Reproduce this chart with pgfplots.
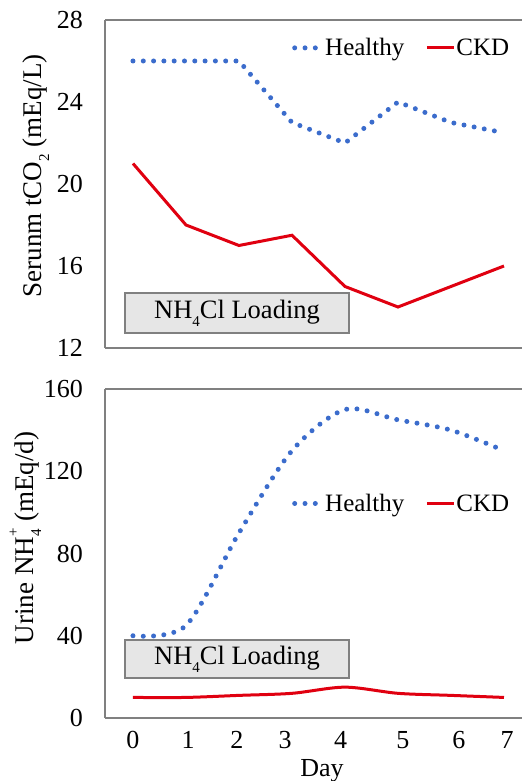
\documentclass[border=0pt]{standalone}
\usepackage{pgfplots}
\pgfplotsset{compat=1.18}
\usepackage{fontspec}
\setmainfont{Liberation Serif}
\definecolor{hblue}{RGB}{59,108,204}
\definecolor{ckdred}{RGB}{224,0,16}
\definecolor{framegray}{RGB}{128,128,128}
\definecolor{boxfill}{RGB}{230,230,230}
\pgfplotsset{
  myax/.style={
    scale only axis, width=417pt, xmin=-0.528, xmax=7.34,
    axis x line=box, axis y line=left,
    axis line style={-, draw=framegray, line width=1.3pt},
    every outer y axis line/.append style={-},
    every outer x axis line/.append style={-},
    major tick length=0pt, tick style={draw=none},
    tick label style={font=\fontsize{26}{30}\selectfont},
    /pgf/number format/assume math mode=true,
    yticklabel style={inner sep=0pt, xshift=-22pt},
    xticklabel style={inner sep=0pt, yshift=-13pt},
    legend style={draw=none, fill=none, inner sep=0pt,
      font=\fontsize{25}{29}\selectfont, legend columns=2,
      nodes={inner sep=1pt},
      /tikz/every even column/.append style={column sep=20pt}},
    legend image code/.code={\draw[##1] (0pt,0pt) -- (27pt,0pt);},
    clip=false,
  },
  healthy/.style={hblue, line width=5pt, line cap=round, dash pattern=on 0pt off 10.3pt},
  ckd/.style={ckdred, line width=3pt},
}
\newcommand{\subfour}{\raisebox{-0.3em}{\fontsize{15}{15}\selectfont 4}}
\begin{document}
\begin{tikzpicture}[x=1pt,y=1pt]
\useasboundingbox (0,0) rectangle (522,781);
% Top panel
\begin{axis}[myax, at={(105pt,433pt)}, anchor=south west, height=328pt,
  ymin=12, ymax=28, ytick={12,16,20,24,28}, xtick=\empty,
  legend style={at={(rel axis cs:0.972,0.915)}, anchor=east}]
\addplot[healthy] coordinates {(0,26)(1,26)(2,26)(3,23)(4,22)(5,24)(6,23)(7,22.5)};
\addlegendentry{Healthy}
\addplot[ckd] coordinates {(0,21)(1,18)(2,17)(3,17.5)(4,15)(5,14)(6,15)(7,16)};
\addlegendentry{CKD}
\end{axis}
% Bottom panel
\begin{axis}[myax, at={(105pt,63pt)}, anchor=south west, height=329pt,
  ymin=0, ymax=160, ytick={0,40,80,120,160},
  xtick={0,1.04,1.96,2.87,3.92,5.09,6.15,7.06}, xticklabels={0,1,2,3,4,5,6,7},
  legend style={at={(rel axis cs:0.972,0.652)}, anchor=east}]
\addplot[healthy, smooth] coordinates {(0,40)(1,45)(2,90)(3,130)(4,150)(5,145)(6,140)(7,130)};
\addlegendentry{Healthy}
\addplot[ckd, smooth] coordinates {(0,10)(1,10)(2,11)(3,12)(4,15)(5,12)(6,11)(7,10)};
\addlegendentry{CKD}
\end{axis}
% Axis labels
\node[rotate=90, anchor=base, font=\fontsize{27}{31}\selectfont] at (41,605) {Serunm tCO\raisebox{-0.3em}{\fontsize{15}{15}\selectfont 2} (mEq/L)};
\node[rotate=90, anchor=base, font=\fontsize{27}{31}\selectfont] at (33,243) {Urine NH\rlap{\raisebox{-0.3em}{\fontsize{15}{15}\selectfont 4}}\raisebox{0.55em}{\fontsize{15}{15}\selectfont +} (mEq/d)};
\node[anchor=base, font=\fontsize{26}{30}\selectfont] at (322,5) {Day};
% Loading boxes
\node[draw=framegray, line width=1.3pt, fill=boxfill, minimum width=224pt, minimum height=40pt, inner sep=0pt, font=\fontsize{26.5}{30}\selectfont] at (237,468) {NH\subfour Cl Loading};
\node[draw=framegray, line width=1.3pt, fill=boxfill, minimum width=224pt, minimum height=38pt, inner sep=0pt, font=\fontsize{26.5}{30}\selectfont] at (237,122) {NH\subfour Cl Loading};
\end{tikzpicture}
\end{document}
